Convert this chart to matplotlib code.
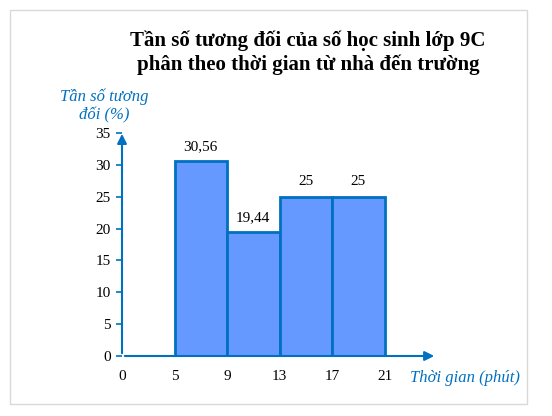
import matplotlib.pyplot as plt
from matplotlib.patches import Rectangle

plt.rcParams['font.family'] = ['Liberation Serif', 'DejaVu Serif']

# histogram data: class edges in minutes and relative frequency (%)
edges = [0, 5, 9, 13, 17, 21]
freq = [30.56, 19.44, 25, 25]
freq_labels = ['30,56', '19,44', '25', '25']
yticks = [0, 5, 10, 15, 20, 25, 30, 35]

axis_blue = '#0070C0'
bar_blue = '#6699FF'

W, H = 552, 416
fig = plt.figure(figsize=(W / 100, H / 100), dpi=100)

# light grey frame around the chart area
fig.patches.append(Rectangle((10 / W, 12 / H), 517 / W, 394 / H, transform=fig.transFigure,
                             fill=False, edgecolor='#d9d9d9', lw=1))

ax = fig.add_axes([122 / W, 1 - 356 / H, 315 / W, 223 / H])
ax.set_xlim(0, 6)
ax.set_ylim(0, 35)

# bars sit on positions 1..5 (the 0-5 gap is drawn as one class width)
pos = list(range(len(edges)))
for i, f in enumerate(freq):
    ax.bar(pos[i + 1], f, width=1, align='edge', color=bar_blue,
           edgecolor=axis_blue, lw=2, zorder=2)
    ax.text(pos[i + 1] + 0.5, f + 1.3, freq_labels[i], ha='center', va='bottom',
            fontsize=11)

for s in ax.spines.values():
    s.set_visible(False)

# axes with arrow heads
ax.annotate('', xy=(6, 0), xytext=(0, 0),
            arrowprops=dict(arrowstyle='-|>', color=axis_blue, lw=1.5, mutation_scale=14),
            annotation_clip=False, zorder=3)
ax.annotate('', xy=(0, 35.3), xytext=(0, 0),
            arrowprops=dict(arrowstyle='-|>', color=axis_blue, lw=1.5, mutation_scale=14),
            annotation_clip=False, zorder=3)

ax.set_yticks(yticks)
ax.set_yticklabels([str(v) for v in yticks], fontsize=11)
ax.tick_params(axis='y', length=4, width=1.2, color=axis_blue, pad=4)
ax.set_xticks(pos)
ax.set_xticklabels([str(e) for e in edges], fontsize=11)
ax.tick_params(axis='x', length=0, pad=10)

fig.text(104 / W, 1 - 106 / H, 'Tần số tương\nđối (%)', ha='center', va='center',
         fontsize=12, style='italic', color=axis_blue, linespacing=1.2)
fig.text(410 / W, 1 - 378 / H, 'Thời gian (phút)', ha='left', va='center',
         fontsize=12, style='italic', color=axis_blue)

fig.text(308 / W, 1 - 53 / H, 'Tần số tương đối của số học sinh lớp 9C\nphân theo thời gian từ nhà đến trường',
         ha='center', va='center', fontsize=15, fontweight='bold', linespacing=1.2)

fig.savefig('out.png', dpi=100)
